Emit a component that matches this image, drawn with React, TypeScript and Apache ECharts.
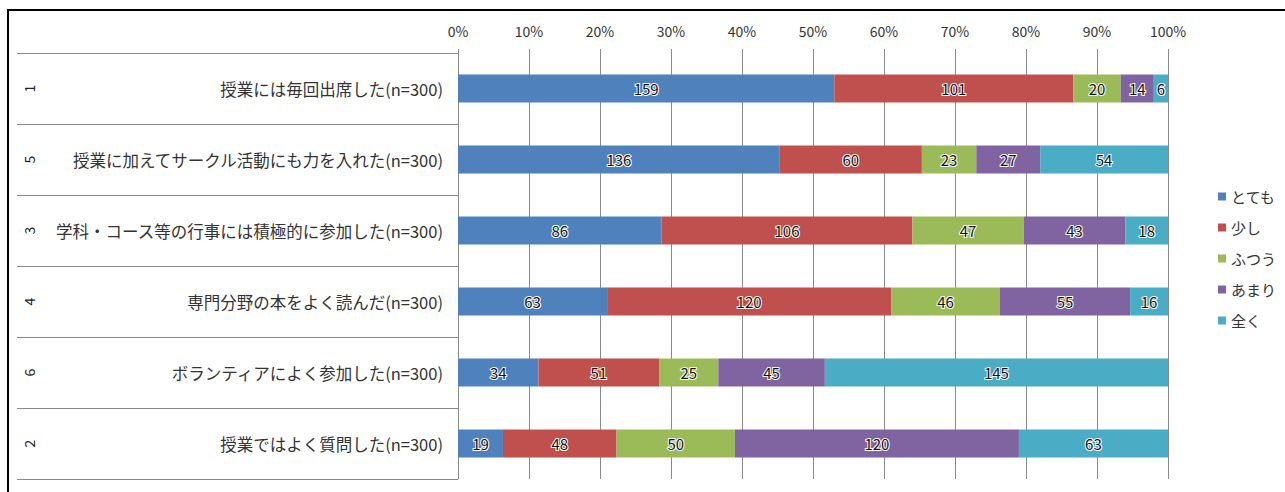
import React, { useEffect, useRef } from "react";
import * as echarts from "echarts";

// Survey items, top to bottom
const itemNumbers = ["1", "5", "3", "4", "6", "2"];
const itemLabels = [
  "授業には毎回出席した(n=300)",
  "授業に加えてサークル活動にも力を入れた(n=300)",
  "学科・コース等の行事には積極的に参加した(n=300)",
  "専門分野の本をよく読んだ(n=300)",
  "ボランティアによく参加した(n=300)",
  "授業ではよく質問した(n=300)",
];

// Response categories
const answerNames = ["とても", "少し", "ふつう", "あまり", "全く"];
const answerColors = ["#4F81BD", "#C0504D", "#9BBB59", "#8064A2", "#4BACC6"];

// Response counts per item (same order as itemLabels)
const countsTotemo = [159, 136, 86, 63, 34, 19];
const countsSukoshi = [101, 60, 106, 120, 51, 48];
const countsFutsuu = [20, 23, 47, 46, 25, 50];
const countsAmari = [14, 27, 43, 55, 45, 120];
const countsMattaku = [6, 54, 18, 16, 145, 63];

const allCounts = [countsTotemo, countsSukoshi, countsFutsuu, countsAmari, countsMattaku];

const FONT = "'Noto Sans CJK JP', 'Noto Sans', sans-serif";
const GRID_GRAY = "#8a8a8a";

export default function App() {
  const ref = useRef<HTMLDivElement>(null);

  useEffect(() => {
    if (!ref.current) return;
    const chart = echarts.init(ref.current, undefined, { renderer: "svg" });

    const totals = itemLabels.map((_, i) =>
      allCounts.reduce((s, arr) => s + arr[i], 0)
    );

    const series = answerNames.map((name, k) => ({
      name,
      type: "bar" as const,
      stack: "all",
      yAxisIndex: 0,
      barWidth: 28,
      itemStyle: { color: answerColors[k] },
      label: {
        show: true,
        position: "inside" as const,
        fontFamily: FONT,
        fontSize: 15,
        color: "#111",
        textBorderColor: "#ffffff",
        textBorderWidth: 2,
        formatter: (p: any) => String(p.data.count),
      },
      data: allCounts[k].map((c, i) => ({
        value: (c / totals[i]) * 100,
        count: c,
      })),
    }));

    chart.setOption({
      animation: false,
      textStyle: { fontFamily: FONT },
      graphic: [
        {
          type: "polyline",
          shape: { points: [[8, 700], [8, 10], [1400, 10]] },
          style: { stroke: "#000", lineWidth: 2, fill: "none" },
          silent: true,
        },
      ],
      legend: {
        orient: "vertical",
        left: 1213,
        top: 184,
        icon: "rect",
        itemWidth: 8,
        itemHeight: 8,
        itemGap: 16,
        textStyle: { fontFamily: FONT, fontSize: 15, color: "#333" },
        data: answerNames,
      },
      grid: { left: 458, right: 117, top: 53, bottom: 13 },
      xAxis: {
        type: "value",
        position: "top",
        min: 0,
        max: 100,
        interval: 10,
        axisLine: { show: false },
        axisTick: { show: true, length: 4, lineStyle: { color: GRID_GRAY } },
        splitLine: { show: true, lineStyle: { color: GRID_GRAY, width: 1 } },
        axisLabel: {
          formatter: "{value}%",
          fontFamily: FONT,
          fontSize: 14,
          color: "#333",
          margin: 15,
        },
      },
      yAxis: [
        {
          type: "category",
          inverse: true,
          data: itemLabels,
          axisLine: { show: true, lineStyle: { color: GRID_GRAY } },
          axisTick: { show: true, length: 441, lineStyle: { color: GRID_GRAY } },
          axisLabel: {
            fontFamily: FONT,
            fontSize: 16.5,
            color: "#333",
            margin: 15,
          },
        },
        {
          type: "category",
          inverse: true,
          position: "left",
          data: itemNumbers,
          axisLine: { show: false },
          axisTick: { show: false },
          axisLabel: {
            rotate: 90,
            align: "center",
            verticalAlign: "middle",
            margin: 429,
            fontFamily: FONT,
            fontSize: 14,
            color: "#222",
          },
        },
      ],
      series,
    });

    return () => chart.dispose();
  }, []);

  return (
    <div
      ref={ref}
      style={{
        position: "fixed",
        left: 0,
        top: 0,
        width: 1285,
        height: 492,
        background: "#fff",
      }}
    />
  );
}
